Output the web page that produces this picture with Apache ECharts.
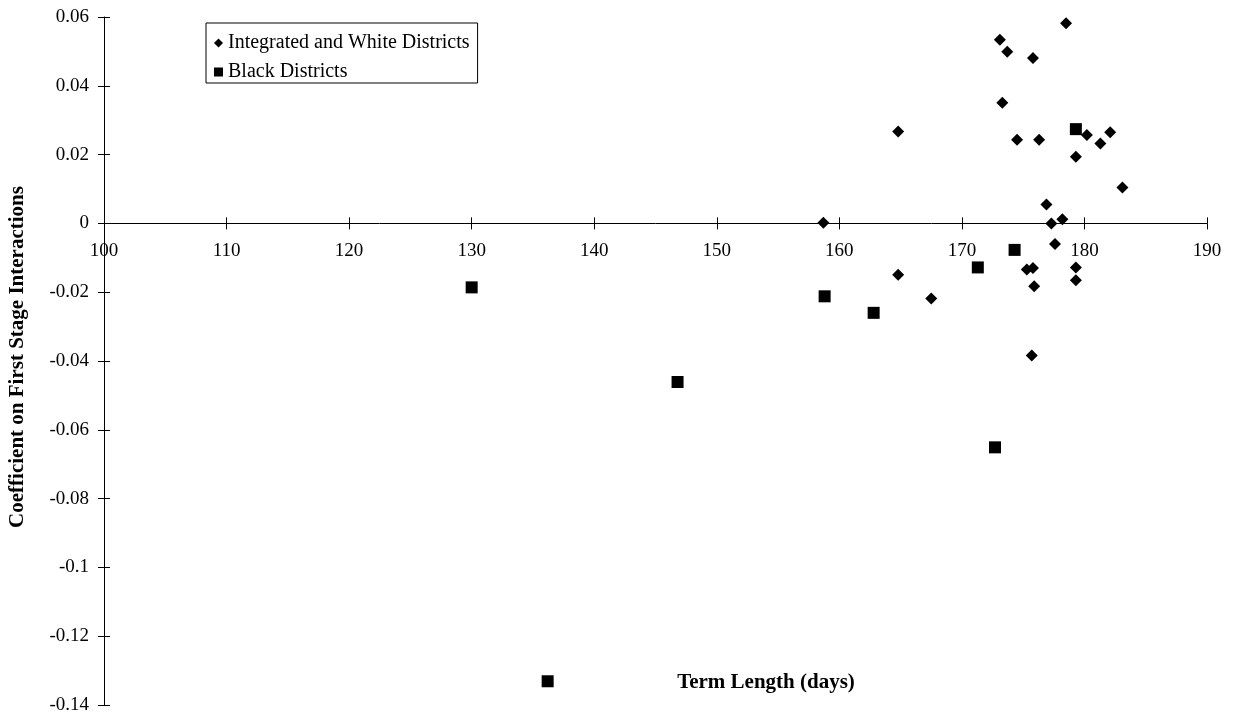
<!DOCTYPE html>
<html>
<head>
<meta charset="utf-8">
<title>Coefficient on First Stage Interactions vs Term Length</title>
<script src="https://cdn.jsdelivr.net/npm/echarts@6/dist/echarts.min.js"></script>
<style>
    html, body { margin: 0; padding: 0; background: #fff; }
    #chart { width: 1233px; height: 717px; }
</style>
</head>
<body>
<div id="chart"></div>
<script>
// Term length (days) and first stage coefficient
const whiteX = [178.5, 173.1, 173.7, 175.8, 173.3, 164.8, 180.2, 182.1, 174.5, 176.3, 181.3, 179.3, 183.1,
    176.9, 177.3, 178.2, 177.6, 175.3, 175.8, 179.3, 179.3, 175.9, 175.7, 158.7, 164.8, 167.5];
const whiteY = [0.0582, 0.0534, 0.0499, 0.0481, 0.0351, 0.0267, 0.0257, 0.0265, 0.0243, 0.0243, 0.0232, 0.0194, 0.0104,
    0.0055, 0.0000, 0.0012, -0.0060, -0.0134, -0.0130, -0.0128, -0.0165, -0.0183, -0.0384, 0.0002, -0.0149, -0.0218];

const blackX = [130.0, 136.2, 146.8, 158.8, 162.8, 171.3, 172.7, 174.3, 179.3];
const blackY = [-0.0186, -0.1331, -0.0461, -0.0212, -0.0260, -0.0128, -0.0651, -0.0077, 0.0274];

const seriesNames = ['Integrated and White Districts', 'Black Districts'];
const xTitle = 'Term Length (days)';
const yTitle = 'Coefficient on First Stage Interactions';

(function () {
    'use strict';

    const font = '"Liberation Serif", "DejaVu Serif", serif';
    const yMin = -0.14;
    const yMax = 0.06;
    const gridTop = 17;
    const gridBottom = 12;
    const plotHeight = 717 - gridTop - gridBottom;
    // the x axis crosses at y = 0, lift it up from the grid bottom by hand
    // (onZero in v6 leaves the labels down at the grid edge)
    const xAxisOffset = -plotHeight * (0 - yMin) / (yMax - yMin);

    function pairs (xs, ys) {
        return xs.map((x, i) => [x, ys[i]]);
    }

    // Excel style cross ticks: the main axis draws ticks out, a twin draws them in
    function xAxisPart (inside, showLabel) {
        return {
            type: 'value',
            min: 100,
            max: 190,
            interval: 10,
            position: 'bottom',
            offset: xAxisOffset,
            axisLine: { show: !inside, onZero: false, lineStyle: { color: '#000', width: 1 } },
            axisTick: { show: true, inside: inside, length: 6, lineStyle: { color: '#000', width: 1 } },
            axisLabel: { show: showLabel, color: '#000', fontFamily: font, fontSize: 19, margin: 18 },
            splitLine: { show: false }
        };
    }

    function yAxisPart (inside, showLabel) {
        return {
            type: 'value',
            min: yMin,
            max: yMax,
            interval: 0.02,
            position: 'left',
            axisLine: { show: !inside, onZero: false, lineStyle: { color: '#000', width: 1 } },
            axisTick: { show: true, inside: inside, length: 6, lineStyle: { color: '#000', width: 1 } },
            axisLabel: { show: showLabel, color: '#000', fontFamily: font, fontSize: 19, margin: 15 },
            splitLine: { show: false }
        };
    }

    const chart = echarts.init(document.getElementById('chart'), null, { renderer: 'canvas' });

    chart.setOption({
        animation: false,
        backgroundColor: '#fff',
        grid: {
            left: 104,
            right: 26,
            top: gridTop,
            bottom: gridBottom,
            containLabel: false,
            outerBoundsMode: 'none'
        },
        legend: {
            orient: 'vertical',
            left: 206,
            top: 23,
            padding: [10, 8, 1, 8],
            itemGap: 9,
            itemWidth: 9,
            itemHeight: 9,
            borderColor: '#000',
            borderWidth: 1,
            textStyle: { color: '#000', fontFamily: font, fontSize: 20, lineHeight: 20 },
            data: [
                { name: seriesNames[0], icon: 'diamond', itemStyle: { opacity: 1 } },
                { name: seriesNames[1], icon: 'rect', itemStyle: { opacity: 1 } }
            ]
        },
        xAxis: [xAxisPart(false, true), xAxisPart(true, false)],
        yAxis: [yAxisPart(false, true), yAxisPart(true, false)],
        graphic: [
            {
                type: 'text',
                x: 766,
                y: 683,
                style: {
                    text: xTitle,
                    font: 'bold 21px ' + font,
                    fill: '#000',
                    align: 'center',
                    verticalAlign: 'middle'
                }
            },
            {
                type: 'text',
                x: 18,
                y: 357,
                rotation: Math.PI / 2,
                style: {
                    text: yTitle,
                    font: 'bold 21px ' + font,
                    fill: '#000',
                    align: 'center',
                    verticalAlign: 'middle'
                }
            }
        ],
        series: [
            {
                name: seriesNames[0],
                type: 'scatter',
                symbol: 'diamond',
                symbolSize: 12,
                itemStyle: { color: '#000', opacity: 1 },
                data: pairs(whiteX, whiteY)
            },
            {
                name: seriesNames[1],
                type: 'scatter',
                symbol: 'rect',
                symbolSize: 12,
                itemStyle: { color: '#000', opacity: 1 },
                data: pairs(blackX, blackY)
            }
        ]
    });
}());
</script>
</body>
</html>
